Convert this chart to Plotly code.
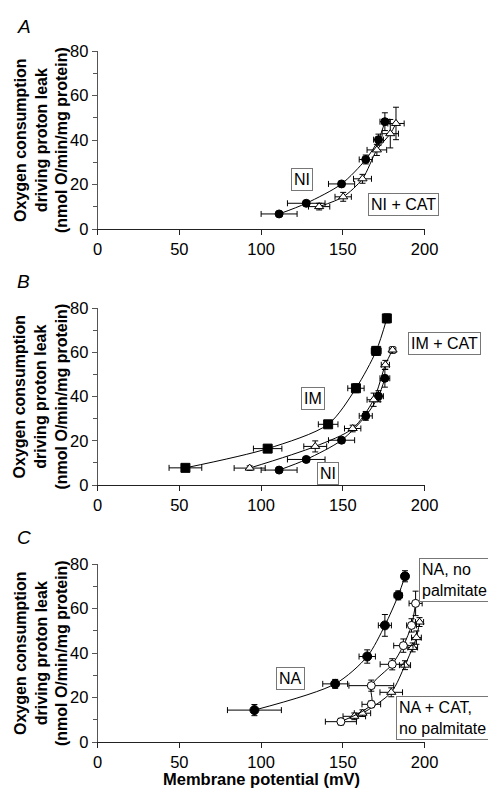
import plotly.graph_objects as go

W, H = 496, 791
FONT = "Liberation Sans, Arial, sans-serif"

# ---------------- data ----------------
ni_x = [111, 127.6, 149.2, 164, 171.8, 175.7]
ni_y = [6.8, 11.6, 20.3, 31.3, 40.2, 48.3]
ni_xerr = [11, 11.5, 8, 4, 3, 3]
ni_yerr = [1, 1, 1.2, 2, 2.5, 4]

nicat_x = [135.5, 150.2, 162, 170.8, 179, 182.5]
nicat_y = [10.1, 14.5, 22.6, 35.6, 42.9, 47.5]
nicat_xerr = [6.5, 5, 5.5, 6, 5, 5]
nicat_yerr = [1.5, 2, 2, 2.5, 6.4, 7.3]

im_x = [53.7, 104, 141, 158, 170.4, 176.9]
im_y = [7.8, 16.5, 27.5, 43.8, 60.7, 75.4]
im_xerr = [10, 8.7, 6, 5, 3, 2]
im_yerr = [1, 1.5, 1.5, 2, 2, 2]

imcat_x = [93, 133.1, 156, 168.8, 176, 180.4]
imcat_y = [7.7, 17.5, 25.6, 38.6, 54.4, 61.1]
imcat_xerr = [9.5, 7, 5, 4, 2.5, 2]
imcat_yerr = [1, 2.5, 1.5, 3, 2, 1.5]

na_x = [95.9, 145.3, 164.9, 175.7, 183.9, 188]
na_y = [14.4, 26.2, 38.5, 52.5, 66, 74.6]
na_xerr = [16.5, 7.6, 5, 4, 2.5, 2]
na_yerr = [2.5, 2, 3, 4.9, 2, 2.5]

nanp_x = [148.8, 167.4, 167.4, 180.2, 187, 192, 194.5]
nanp_y = [9.2, 17, 25.4, 35, 43.4, 52.5, 62.4]
nanp_xerr = [9.5, 5.7, 13.7, 7.4, 5.9, 3, 4]
nanp_yerr = [1.5, 1.5, 2.5, 2.5, 3, 3, 5.5]

nacat_x = [157, 162, 179.6, 188, 192.7, 195, 196.9]
nacat_y = [11.6, 13, 22.4, 34.6, 42.6, 47, 54]
nacat_xerr = [6.9, 5, 6.9, 3.4, 3, 3, 2.5]
nacat_yerr = [1.5, 1.5, 2, 2, 2, 3, 2]

x_ticks = [0, 50, 100, 150, 200]
y_ticks = [0, 20, 40, 60, 80]
panel_letters = ["A", "B", "C"]
y_title = "Oxygen consumption<br>driving proton leak<br>(nmol O/min/mg protein)"
x_title = "Membrane potential (mV)"

# ---------------- layout geometry (pixels) ----------------
x_left, x_right = 88, 428
panels_px = [(35, 217), (298, 479), (560, 742)]  # (top, bottom)


def px(p):
    return p / W


def py(p):
    return 1 - p / H


fig = go.Figure()


def add_series(xs, ys, xe, ye, n, symbol, filled, size):
    fig.add_trace(go.Scatter(
        x=xs, y=ys, mode="lines+markers",
        xaxis=f"x{n if n > 1 else ''}", yaxis=f"y{n if n > 1 else ''}",
        line=dict(color="black", width=1, shape="spline", smoothing=0.8),
        marker=dict(symbol=symbol, size=size,
                    color="black" if filled else "white",
                    line=dict(color="black", width=1)),
        error_x=dict(type="data", array=xe, color="black", thickness=1, width=3),
        error_y=dict(type="data", array=ye, color="black", thickness=1, width=3),
        showlegend=False, cliponaxis=False,
    ))


# Panel A
add_series(nicat_x, nicat_y, nicat_xerr, nicat_yerr, 1, "triangle-up", False, 8)
add_series(ni_x, ni_y, ni_xerr, ni_yerr, 1, "circle", True, 8)
# Panel B
add_series(ni_x, ni_y, ni_xerr, ni_yerr, 2, "circle", True, 8)
add_series(imcat_x, imcat_y, imcat_xerr, imcat_yerr, 2, "triangle-up", False, 8)
add_series(im_x, im_y, im_xerr, im_yerr, 2, "square", True, 9)
# Panel C
add_series(nacat_x, nacat_y, nacat_xerr, nacat_yerr, 3, "triangle-up", False, 8)
add_series(nanp_x, nanp_y, nanp_xerr, nanp_yerr, 3, "circle", False, 8)
add_series(na_x, na_y, na_xerr, na_yerr, 3, "circle", True, 9)

layout = dict(
    width=W, height=H, autosize=False,
    margin=dict(l=0, r=0, t=0, b=0),
    paper_bgcolor="white", plot_bgcolor="white",
    font=dict(family=FONT, size=16, color="black"),
)

for i, (top, bot) in enumerate(panels_px):
    n = "" if i == 0 else str(i + 1)
    layout[f"xaxis{n}"] = dict(
        domain=[px(x_left), px(x_right)], range=[0, 200],
        anchor=f"y{n}", tickvals=x_ticks, ticks="outside", ticklen=5,
        tickcolor="#222", showline=True, linecolor="#222", linewidth=1,
        showgrid=False, zeroline=False,
        tickfont=dict(family=FONT, size=16.5, color="black"),
    )
    layout[f"yaxis{n}"] = dict(
        domain=[py(bot), py(top)], range=[0, 80],
        anchor=f"x{n}", tickvals=y_ticks, ticks="outside", ticklen=5,
        tickcolor="#555", showline=True, linecolor="#555", linewidth=1,
        showgrid=False, zeroline=False,
        minor=dict(dtick=10, ticks="outside", ticklen=4, tickcolor="#555"),
        tickfont=dict(family=FONT, size=16.5, color="black"),
    )

fig.update_layout(**layout)

ann = []
# panel letters
for letter, ypx in zip(panel_letters, [10, 271, 533]):
    ann.append(dict(text=f"<i>{letter}</i>", xref="paper", yref="paper",
                    x=px(2), y=py(ypx), xanchor="left", yanchor="middle",
                    showarrow=False, font=dict(family=FONT, size=19)))
# y titles
for top, bot in panels_px:
    ann.append(dict(text=f"<b>{y_title}</b>", xref="paper", yref="paper",
                    x=px(29), y=py((top + bot) / 2), xanchor="center",
                    yanchor="middle", textangle=-90, showarrow=False,
                    font=dict(family=FONT, size=16)))
# x title
ann.append(dict(text=f"<b>{x_title}</b>", xref="paper", yref="paper",
                x=px(258), y=py(780), xanchor="center", yanchor="middle",
                showarrow=False, font=dict(family=FONT, size=16.5)))


def box(text, x, y, xr="paper", yr="paper", align="center"):
    if xr == "paper":
        x, y = px(x), py(y)
    ann.append(dict(text=text, xref=xr, yref=yr, x=x, y=y,
                    xanchor="center", yanchor="middle", showarrow=False,
                    align=align, bgcolor="white", bordercolor="#777",
                    borderwidth=1, borderpad=2,
                    font=dict(family=FONT, size=16)))


box("NI", 125, 22.2, "x", "y")
box("NI + CAT", 187, 11.2, "x", "y")
box("IM + CAT", 448.7, 334)
box("IM", 131.5, 39, "x2", "y2")
box("NI", 140.9, 5.1, "x2", "y2")
box("NA, no<br>palmitate", 459, 576, align="left")
box("NA", 118, 28.6, "x3", "y3")
box("NA + CAT,<br>no palmitate", 446.5, 717.5, align="left")

fig.update_layout(annotations=ann)
fig.write_html("out.html")
